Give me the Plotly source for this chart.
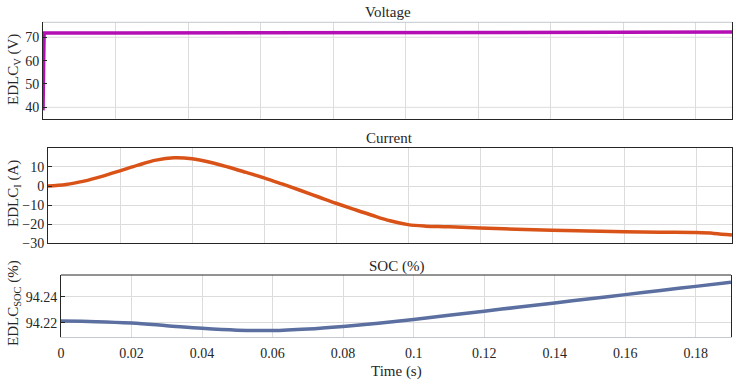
import plotly.graph_objects as go

# ---------------- data ----------------
t_v = [0, 0.0003, 0.02, 0.04, 0.06, 0.08, 0.1, 0.12, 0.14, 0.16, 0.18, 0.19]
volt = [38.7, 71.8, 71.8, 71.85, 71.9, 71.95, 72.0, 72.05, 72.1, 72.15, 72.2, 72.2]

t_i = [0, 0.005, 0.01, 0.015, 0.02, 0.025, 0.03, 0.035, 0.04, 0.045, 0.05, 0.055,
       0.06, 0.065, 0.07, 0.075, 0.08, 0.085, 0.09, 0.095, 0.1, 0.105, 0.11, 0.115,
       0.12, 0.13, 0.14, 0.15, 0.16, 0.17, 0.18, 0.185, 0.19]
curr = [0, 0.8, 2.6, 5.1, 8.0, 11.0, 13.6, 14.8, 14.3, 12.5, 10.0, 7.2,
        4.3, 1.1, -2.2, -5.6, -9.0, -12.2, -15.3, -18.2, -20.2, -21.0, -21.3, -21.6,
        -22.0, -22.6, -23.1, -23.5, -23.9, -24.2, -24.4, -24.8, -25.7]

t_s = [0, 0.01, 0.02, 0.03, 0.04, 0.05, 0.06, 0.07, 0.08, 0.09, 0.1,
       0.11, 0.12, 0.13, 0.14, 0.15, 0.16, 0.17, 0.18, 0.19]
soc = [94.2213, 94.2209, 94.2198, 94.2178, 94.2157, 94.2143, 94.2140, 94.2152,
       94.2172, 94.2196, 94.2225, 94.2258, 94.2290, 94.2322, 94.2354, 94.2386,
       94.2418, 94.2450, 94.2482, 94.2513]

x_ticks = [0, 0.02, 0.04, 0.06, 0.08, 0.1, 0.12, 0.14, 0.16, 0.18]
x_ticklabels = ["0", "0.02", "0.04", "0.06", "0.08", "0.1", "0.12", "0.14", "0.16", "0.18"]
v_ticks = [40, 50, 60, 70]
v_grid = [40, 70]
i_ticks = [-30, -20, -10, 0, 10]
s_ticks = [94.22, 94.24]
s_ticklabels = ["94.22", "94.24"]

titles = ["Voltage", "Current", "SOC (%)"]
ylabels = ["EDLC<sub>V</sub> (V)", "EDLC<sub>I</sub> (A)", "EDLC<sub>SOC</sub> (%)"]
xlabel = "Time (s)"

# ---------------- layout geometry (pixels) ----------------
W, H = 740, 380
FONT = "Liberation Serif"
DARK = "#262626"
LIGHT = "#c4c8d0"
GRID = "#dcdcdc"

panels = [  # left, right, top, bottom
    (43, 732, 22.3, 119),
    (48, 732, 148.3, 243.3),
    (61, 731, 275, 337),
]

def xd(a, b):
    return [a / W, b / W]

def yd(top, bot):
    return [1 - bot / H, 1 - top / H]

fig = go.Figure()
fig.add_trace(go.Scatter(x=t_v, y=volt, mode="lines", line=dict(color="#b40fb4", width=3.5),
                         xaxis="x", yaxis="y", showlegend=False))
fig.add_trace(go.Scatter(x=t_i, y=curr, mode="lines", line=dict(color="#d95319", width=3.5),
                         line_shape="spline", xaxis="x2", yaxis="y2", showlegend=False))
fig.add_trace(go.Scatter(x=t_s, y=soc, mode="lines", line=dict(color="#5b6fa0", width=3.5),
                         line_shape="spline", xaxis="x3", yaxis="y3", showlegend=False))

tickfont = dict(family=FONT, size=14, color=DARK)

def xaxis(i, show_labels, line_color, mirror):
    l, r, t, b = panels[i]
    d = dict(domain=xd(l, r), range=[0, 0.19], tickvals=x_ticks, ticktext=x_ticklabels,
             showticklabels=show_labels, showgrid=True, gridcolor=GRID, gridwidth=1,
             zeroline=False, showline=True, linecolor=line_color, linewidth=1,
             mirror=mirror, ticks="", tickfont=tickfont, automargin=False,
             anchor="y" if i == 0 else "y%d" % (i + 1))
    if show_labels:
        d["ticklabelstandoff"] = 3
    return d

def yaxis(i, rng, tv, tt=None, grid=True):
    l, r, t, b = panels[i]
    d = dict(domain=yd(t, b), range=rng, tickvals=tv, showgrid=grid, gridcolor=GRID,
             gridwidth=1, zeroline=False, showline=True, linecolor=DARK, linewidth=1,
             mirror=True, ticks="inside", ticklen=4, tickcolor=DARK, tickfont=tickfont,
             automargin=False, anchor="x" if i == 0 else "x%d" % (i + 1))
    if tt is not None:
        d["ticktext"] = tt
    return d

fig.update_layout(
    width=W, height=H, autosize=False,
    margin=dict(l=0, r=0, t=0, b=0, pad=0, autoexpand=False),
    paper_bgcolor="white", plot_bgcolor="white",
    font=dict(family=FONT, color=DARK),
    xaxis=xaxis(0, False, DARK, False),
    xaxis2=xaxis(1, False, DARK, True),
    xaxis3=xaxis(2, True, LIGHT, False),
    yaxis=yaxis(0, [35, 76.4], v_ticks, grid=False),
    yaxis2=yaxis(1, [-30, 19.8], i_ticks),
    yaxis3=yaxis(2, [94.209, 94.257], s_ticks, s_ticklabels),
)

shapes = []
# sparse horizontal grid of the voltage panel
for gv in v_grid:
    shapes.append(dict(type="line", xref="x domain", yref="y", x0=0, x1=1, y0=gv, y1=gv,
                       line=dict(color=GRID, width=1), layer="below"))
# panel 1 top border (light), panel 3 top border (dark)
l, r, t, b = panels[0]
shapes.append(dict(type="line", xref="paper", yref="paper", x0=l / W, x1=r / W,
                   y0=1 - t / H, y1=1 - t / H, line=dict(color=LIGHT, width=1)))
l, r, t, b = panels[2]
shapes.append(dict(type="line", xref="paper", yref="paper", x0=l / W, x1=r / W,
                   y0=1 - t / H, y1=1 - t / H, line=dict(color=DARK, width=1)))
fig.update_layout(shapes=shapes)

ann = []
title_y = [12, 137.5, 266]
ylab_y = [70, 194, 303]
for i in range(3):
    l, r, t, b = panels[i]
    ann.append(dict(text=titles[i], x=(l + r) / 2 / W, y=1 - title_y[i] / H,
                    xref="paper", yref="paper", xanchor="center", yanchor="middle",
                    showarrow=False, font=dict(family=FONT, size=15, color=DARK)))
    ann.append(dict(text=ylabels[i], x=3 / W, y=1 - ylab_y[i] / H, textangle=-90,
                    xref="paper", yref="paper", xanchor="left", yanchor="middle",
                    showarrow=False, font=dict(family=FONT, size=15, color=DARK)))
l, r, t, b = panels[2]
ann.append(dict(text=xlabel, x=(l + r) / 2 / W, y=1 - 371 / H, xref="paper", yref="paper",
                xanchor="center", yanchor="middle", showarrow=False,
                font=dict(family=FONT, size=15, color=DARK)))
fig.update_layout(annotations=ann)

fig.write_html("out.html", config={"displayModeBar": False},
               post_script="document.body.style.margin='0';")
